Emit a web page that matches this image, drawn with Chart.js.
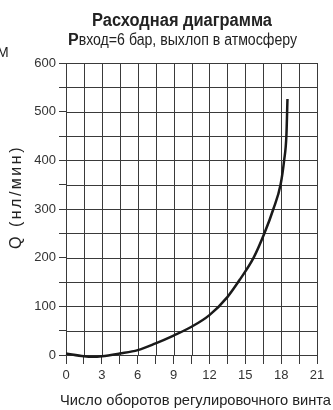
<!DOCTYPE html>
<html>
<head>
<meta charset="utf-8">
<script src="https://cdn.jsdelivr.net/npm/chart.js@4.4.0/dist/chart.umd.min.js"></script>
<style>
  html, body { margin: 0; padding: 0; background: #fff; }
  #wrap { width: 333px; height: 410px; }
</style>
</head>
<body>
<div id="wrap"><canvas id="chartRashod" width="333" height="410"></canvas></div>
<script>
// число оборотов и расход
const xTurns = [0, 1.5, 2.25, 3, 4.5, 6, 7.5, 9, 10.5, 12, 13.5, 14.6, 15.7, 16.6, 17.35, 17.95, 18.25, 18.44, 18.53];
const qFlow = [3, -2.7, -3.8, -2.7, 3, 10, 24, 40, 58, 82, 119, 157, 200, 250, 300, 350, 400, 451, 526];
const titleText = 'Расходная диаграмма';
const subtitleBold = 'P';
const subtitleText = 'вход=6 бар, выхлоп в атмосферу';
const xTitle = 'Число оборотов регулировочного винта';
const yTitle = 'Q (нл/мин)';
const cutText = 'М';

const fontFam = '"Liberation Sans Narrow", "Arial Narrow", "Liberation Sans", Arial, sans-serif';
const gridColor = '#3a3a3a';

const points = xTurns.map(function (x, i) { return { x: x, y: qFlow[i] }; });

// сетка по тикам шкал
const gridPlugin = {
    id: 'gridPlugin',
    beforeDatasetsDraw: function (chart) {
        const ctx = chart.ctx;
        const area = chart.chartArea;
        const sx = chart.scales.x;
        const sy = chart.scales.y;
        ctx.save();
        ctx.strokeStyle = gridColor;
        ctx.lineWidth = 1;
        ctx.beginPath();
        sx.ticks.forEach(function (t) {
            const px = Math.round(sx.getPixelForValue(t.value)) + 0.5;
            ctx.moveTo(px, area.top);
            ctx.lineTo(px, area.bottom);
        });
        sy.ticks.forEach(function (t) {
            const py = Math.round(sy.getPixelForValue(t.value)) + 0.5;
            ctx.moveTo(area.left, py);
            ctx.lineTo(area.right, py);
        });
        ctx.stroke();
        ctx.restore();
    }
};

// подписи рисуем сами
const textPlugin = {
    id: 'textPlugin',
    afterDraw: function (chart) {
        const ctx = chart.ctx;
        ctx.save();
        ctx.fillStyle = '#222';
        ctx.textBaseline = 'alphabetic';

        ctx.font = 'bold 18px ' + fontFam;
        ctx.textAlign = 'center';
        ctx.fillText(titleText, 182, 26, 180);

        ctx.textAlign = 'left';
        ctx.font = 'bold 16px ' + fontFam;
        const pw = ctx.measureText(subtitleBold).width;
        ctx.fillText(subtitleBold, 68, 45);
        ctx.font = '16px ' + fontFam;
        ctx.fillText(subtitleText, 68 + pw, 45, 229 - pw);

        ctx.font = '14px ' + fontFam;
        ctx.fillText(cutText, -3, 57);

        // ось X
        ctx.font = '15px ' + fontFam;
        ctx.fillText(xTitle, 60, 405, 271);

        // ось Y
        ctx.translate(21, 197);
        ctx.rotate(-Math.PI / 2);
        ctx.textAlign = 'center';
        ctx.font = '16px ' + fontFam;
        ctx.letterSpacing = '2.5px';
        ctx.fillText(yTitle, 0, 0);
        ctx.restore();
    }
};

const config = {
    type: 'scatter',
    data: {
        datasets: [{
            data: points,
            showLine: true,
            borderColor: '#1a1a1a',
            borderWidth: 2.5,
            pointRadius: 0,
            cubicInterpolationMode: 'monotone',
            clip: false
        }]
    },
    options: {
        responsive: false,
        animation: false,
        layout: { padding: { top: 63, right: 16, left: 0, bottom: 0 } },
        plugins: {
            legend: { display: false },
            tooltip: { enabled: false }
        },
        scales: {
            x: {
                type: 'linear',
                min: 0,
                max: 21,
                afterFit: function (scale) { scale.height = 55; },
                border: { color: gridColor },
                grid: { drawOnChartArea: false, color: gridColor, lineWidth: 1, tickLength: 9 },
                ticks: {
                    stepSize: 1.5,
                    autoSkip: false,
                    maxRotation: 0,
                    padding: 4,
                    color: '#333',
                    font: { family: fontFam, size: 13 },
                    callback: function (v) { return v % 3 === 0 ? v : ''; }
                }
            },
            y: {
                type: 'linear',
                min: 0,
                max: 600,
                afterFit: function (scale) { scale.width = 66; },
                border: { color: gridColor },
                grid: { drawOnChartArea: false, color: gridColor, lineWidth: 1, tickLength: 7 },
                ticks: {
                    stepSize: 50,
                    autoSkip: false,
                    padding: 3,
                    color: '#333',
                    font: { family: fontFam, size: 13 },
                    callback: function (v) { return v % 100 === 0 ? v : ''; }
                }
            }
        }
    },
    plugins: [gridPlugin, textPlugin]
};

new Chart(document.getElementById('chartRashod'), config);
</script>
</body>
</html>
